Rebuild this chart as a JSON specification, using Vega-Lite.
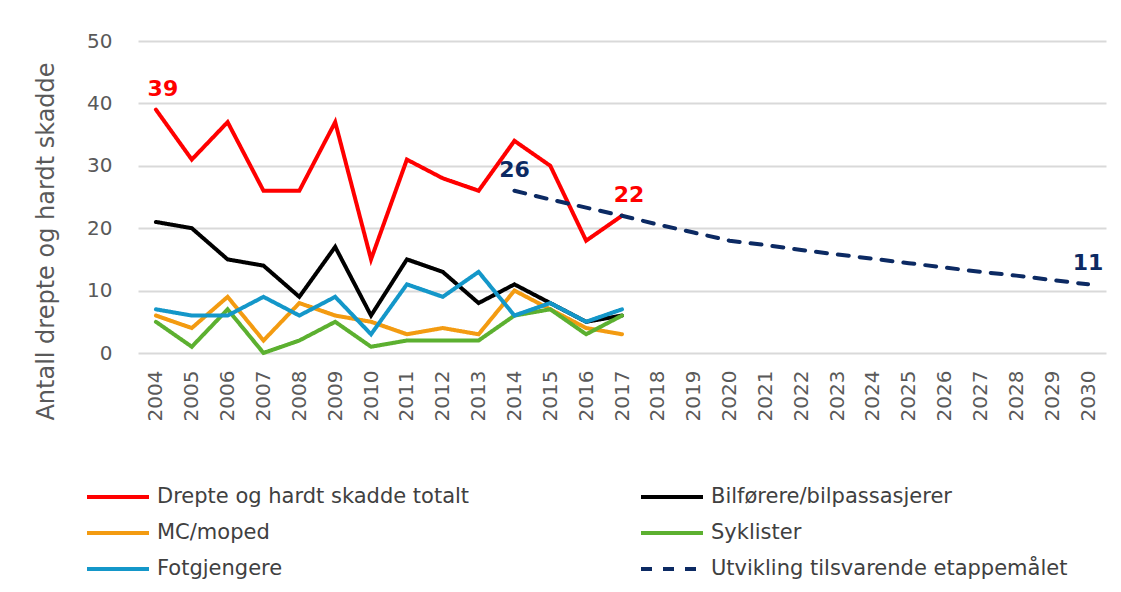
{
  "$schema": "https://vega.github.io/schema/vega-lite/v6.json",
  "autosize": {"type": "none"},
  "padding": {"left": 138, "top": 41, "right": 15, "bottom": 239},
  "width": 968,
  "height": 312,
  "background": "white",
  "config": {
    "font": "DejaVu Sans",
    "view": {"stroke": null},
    "axis": {"labelColor": "#595959", "titleColor": "#595959"}
  },
  "data": {
    "values": [
      {"year": "2004", "series": "Drepte og hardt skadde totalt", "value": 39},
      {"year": "2005", "series": "Drepte og hardt skadde totalt", "value": 31},
      {"year": "2006", "series": "Drepte og hardt skadde totalt", "value": 37},
      {"year": "2007", "series": "Drepte og hardt skadde totalt", "value": 26},
      {"year": "2008", "series": "Drepte og hardt skadde totalt", "value": 26},
      {"year": "2009", "series": "Drepte og hardt skadde totalt", "value": 37},
      {"year": "2010", "series": "Drepte og hardt skadde totalt", "value": 15},
      {"year": "2011", "series": "Drepte og hardt skadde totalt", "value": 31},
      {"year": "2012", "series": "Drepte og hardt skadde totalt", "value": 28},
      {"year": "2013", "series": "Drepte og hardt skadde totalt", "value": 26},
      {"year": "2014", "series": "Drepte og hardt skadde totalt", "value": 34},
      {"year": "2015", "series": "Drepte og hardt skadde totalt", "value": 30},
      {"year": "2016", "series": "Drepte og hardt skadde totalt", "value": 18},
      {"year": "2017", "series": "Drepte og hardt skadde totalt", "value": 22},
      {"year": "2004", "series": "Bilførere/bilpassasjerer", "value": 21},
      {"year": "2005", "series": "Bilførere/bilpassasjerer", "value": 20},
      {"year": "2006", "series": "Bilførere/bilpassasjerer", "value": 15},
      {"year": "2007", "series": "Bilførere/bilpassasjerer", "value": 14},
      {"year": "2008", "series": "Bilførere/bilpassasjerer", "value": 9},
      {"year": "2009", "series": "Bilførere/bilpassasjerer", "value": 17},
      {"year": "2010", "series": "Bilførere/bilpassasjerer", "value": 6},
      {"year": "2011", "series": "Bilførere/bilpassasjerer", "value": 15},
      {"year": "2012", "series": "Bilførere/bilpassasjerer", "value": 13},
      {"year": "2013", "series": "Bilførere/bilpassasjerer", "value": 8},
      {"year": "2014", "series": "Bilførere/bilpassasjerer", "value": 11},
      {"year": "2015", "series": "Bilførere/bilpassasjerer", "value": 8},
      {"year": "2016", "series": "Bilførere/bilpassasjerer", "value": 5},
      {"year": "2017", "series": "Bilførere/bilpassasjerer", "value": 6},
      {"year": "2004", "series": "MC/moped", "value": 6},
      {"year": "2005", "series": "MC/moped", "value": 4},
      {"year": "2006", "series": "MC/moped", "value": 9},
      {"year": "2007", "series": "MC/moped", "value": 2},
      {"year": "2008", "series": "MC/moped", "value": 8},
      {"year": "2009", "series": "MC/moped", "value": 6},
      {"year": "2010", "series": "MC/moped", "value": 5},
      {"year": "2011", "series": "MC/moped", "value": 3},
      {"year": "2012", "series": "MC/moped", "value": 4},
      {"year": "2013", "series": "MC/moped", "value": 3},
      {"year": "2014", "series": "MC/moped", "value": 10},
      {"year": "2015", "series": "MC/moped", "value": 7},
      {"year": "2016", "series": "MC/moped", "value": 4},
      {"year": "2017", "series": "MC/moped", "value": 3},
      {"year": "2004", "series": "Syklister", "value": 5},
      {"year": "2005", "series": "Syklister", "value": 1},
      {"year": "2006", "series": "Syklister", "value": 7},
      {"year": "2007", "series": "Syklister", "value": 0},
      {"year": "2008", "series": "Syklister", "value": 2},
      {"year": "2009", "series": "Syklister", "value": 5},
      {"year": "2010", "series": "Syklister", "value": 1},
      {"year": "2011", "series": "Syklister", "value": 2},
      {"year": "2012", "series": "Syklister", "value": 2},
      {"year": "2013", "series": "Syklister", "value": 2},
      {"year": "2014", "series": "Syklister", "value": 6},
      {"year": "2015", "series": "Syklister", "value": 7},
      {"year": "2016", "series": "Syklister", "value": 3},
      {"year": "2017", "series": "Syklister", "value": 6},
      {"year": "2004", "series": "Fotgjengere", "value": 7},
      {"year": "2005", "series": "Fotgjengere", "value": 6},
      {"year": "2006", "series": "Fotgjengere", "value": 6},
      {"year": "2007", "series": "Fotgjengere", "value": 9},
      {"year": "2008", "series": "Fotgjengere", "value": 6},
      {"year": "2009", "series": "Fotgjengere", "value": 9},
      {"year": "2010", "series": "Fotgjengere", "value": 3},
      {"year": "2011", "series": "Fotgjengere", "value": 11},
      {"year": "2012", "series": "Fotgjengere", "value": 9},
      {"year": "2013", "series": "Fotgjengere", "value": 13},
      {"year": "2014", "series": "Fotgjengere", "value": 6},
      {"year": "2015", "series": "Fotgjengere", "value": 8},
      {"year": "2016", "series": "Fotgjengere", "value": 5},
      {"year": "2017", "series": "Fotgjengere", "value": 7},
      {"year": "2014", "series": "Utvikling tilsvarende etappemålet", "value": 26},
      {"year": "2015", "series": "Utvikling tilsvarende etappemålet", "value": 24.6},
      {"year": "2016", "series": "Utvikling tilsvarende etappemålet", "value": 23.3},
      {"year": "2017", "series": "Utvikling tilsvarende etappemålet", "value": 22},
      {"year": "2018", "series": "Utvikling tilsvarende etappemålet", "value": 20.6},
      {"year": "2019", "series": "Utvikling tilsvarende etappemålet", "value": 19.3},
      {"year": "2020", "series": "Utvikling tilsvarende etappemålet", "value": 18},
      {"year": "2021", "series": "Utvikling tilsvarende etappemålet", "value": 17.3},
      {"year": "2022", "series": "Utvikling tilsvarende etappemålet", "value": 16.5},
      {"year": "2023", "series": "Utvikling tilsvarende etappemålet", "value": 15.8},
      {"year": "2024", "series": "Utvikling tilsvarende etappemålet", "value": 15.1},
      {"year": "2025", "series": "Utvikling tilsvarende etappemålet", "value": 14.4},
      {"year": "2026", "series": "Utvikling tilsvarende etappemålet", "value": 13.7},
      {"year": "2027", "series": "Utvikling tilsvarende etappemålet", "value": 13},
      {"year": "2028", "series": "Utvikling tilsvarende etappemålet", "value": 12.4},
      {"year": "2029", "series": "Utvikling tilsvarende etappemålet", "value": 11.7},
      {"year": "2030", "series": "Utvikling tilsvarende etappemålet", "value": 11}
    ]
  },
  "encoding": {
    "x": {
      "field": "year",
      "type": "ordinal",
      "title": null,
      "axis": {
        "labelAngle": -90,
        "labelFontSize": 20,
        "labelPadding": 17,
        "domain": false,
        "ticks": false,
        "tickSize": 0,
        "grid": false
      }
    },
    "y": {
      "field": "value",
      "type": "quantitative",
      "scale": {"domain": [0, 50]},
      "title": "Antall drepte og hardt skadde",
      "axis": {
        "values": [0, 10, 20, 30, 40, 50],
        "labelFontSize": 20,
        "labelPadding": 26,
        "domain": false,
        "ticks": false,
        "tickSize": 0,
        "grid": true,
        "gridColor": "#d9d9d9",
        "gridWidth": 2,
        "titleFontSize": 24,
        "titleFontWeight": "normal",
        "titlePadding": 28,
        "titleY": 200
      }
    }
  },
  "layer": [
    {
      "mark": {"type": "line", "strokeWidth": 4, "strokeCap": "round"},
      "encoding": {
        "color": {
          "field": "series",
          "type": "nominal",
          "scale": {
            "domain": ["Drepte og hardt skadde totalt", "Bilførere/bilpassasjerer", "MC/moped", "Syklister", "Fotgjengere", "Utvikling tilsvarende etappemålet"],
            "range": ["#ff0000", "#000000", "#f39b11", "#5cb030", "#1497c9", "#0c2a63"]
          },
          "legend": {
            "orient": "none",
            "legendX": -53,
            "legendY": 446,
            "direction": "horizontal",
            "columns": 2,
            "title": null,
            "symbolType": "stroke",
            "symbolSize": 3844,
            "symbolStrokeWidth": 4,
            "clipHeight": 20,
            "labelFontSize": 21,
            "labelColor": "#404040",
            "labelOffset": 6,
            "labelLimit": 600,
            "columnPadding": 169,
            "rowPadding": 15,
            "padding": 0
          }
        },
        "strokeDash": {
          "field": "series",
          "type": "nominal",
          "scale": {
            "domain": ["Drepte og hardt skadde totalt", "Bilførere/bilpassasjerer", "MC/moped", "Syklister", "Fotgjengere", "Utvikling tilsvarende etappemålet"],
            "range": [[1, 0], [1, 0], [1, 0], [1, 0], [1, 0], [11, 11]]
          },
          "legend": {
            "orient": "none",
            "legendX": -53,
            "legendY": 446,
            "direction": "horizontal",
            "columns": 2,
            "title": null,
            "symbolType": "stroke",
            "symbolSize": 3844,
            "symbolStrokeWidth": 4,
            "clipHeight": 20,
            "labelFontSize": 21,
            "labelColor": "#404040",
            "labelOffset": 6,
            "labelLimit": 600,
            "columnPadding": 169,
            "rowPadding": 15,
            "padding": 0
          }
        }
      }
    },
    {
      "transform": [{"filter": "datum.series == 'Drepte og hardt skadde totalt' && (datum.year == '2004' || datum.year == '2017')"}],
      "mark": {"type": "text", "dy": -21, "dx": 7, "fontSize": 22, "fontWeight": "bold", "color": "#ff0000", "align": "center", "baseline": "middle"},
      "encoding": {"text": {"field": "value", "type": "quantitative"}}
    },
    {
      "transform": [{"filter": "datum.series == 'Utvikling tilsvarende etappemålet' && (datum.year == '2014' || datum.year == '2030')"}],
      "mark": {"type": "text", "dy": -21, "fontSize": 22, "fontWeight": "bold", "color": "#0c2a63", "align": "center", "baseline": "middle"},
      "encoding": {"text": {"field": "value", "type": "quantitative"}}
    }
  ]
}
